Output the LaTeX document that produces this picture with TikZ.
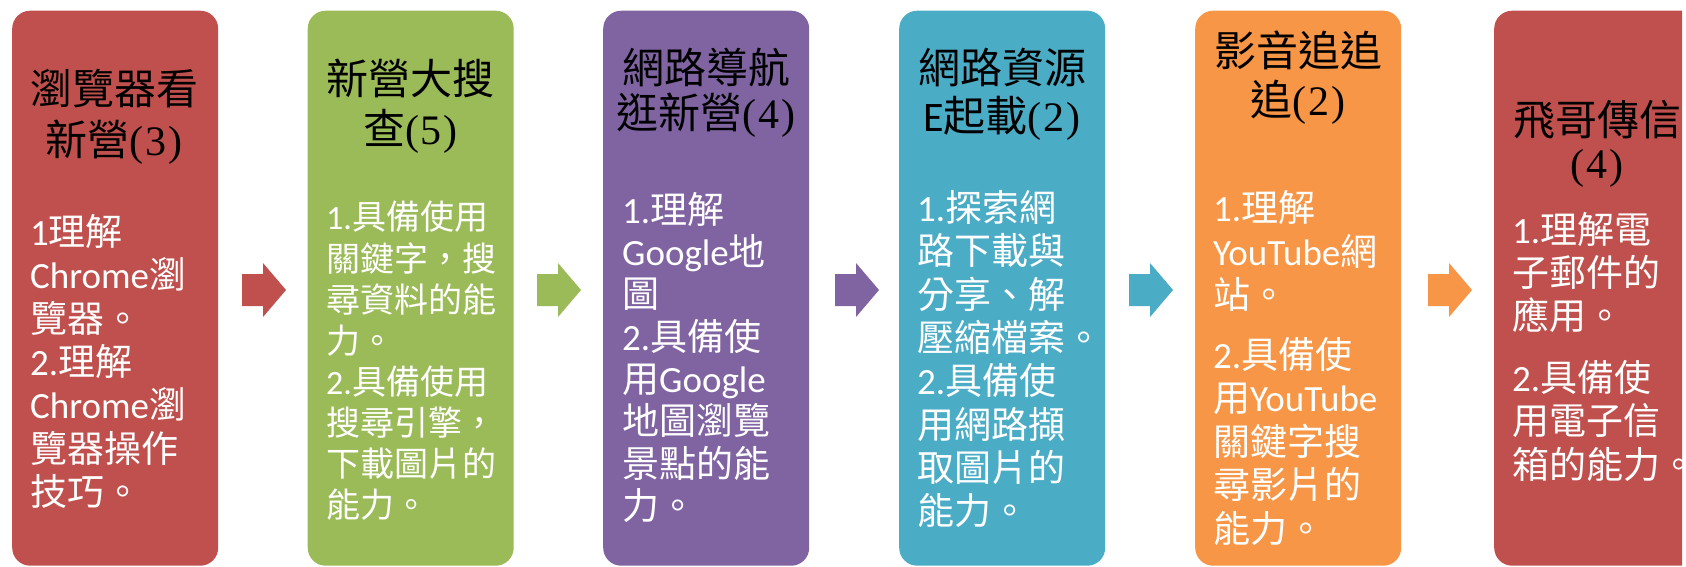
\documentclass[tikz,border=0pt]{standalone}
\usepackage{fontspec}
\setmainfont{Noto Sans CJK TC}
\newfontfamily\latf{Carlito}
\newfontfamily\serf{Liberation Serif}
\newcommand\latn[1]{{\latf #1}}
\newcommand\pnum[1]{{\serf(\kern2pt#1\kern2pt)}}
\definecolor{cred}{HTML}{C0504D}
\definecolor{cgreen}{HTML}{9BBB59}
\definecolor{cpurple}{HTML}{8064A2}
\definecolor{cteal}{HTML}{4BACC6}
\definecolor{corange}{HTML}{F79646}
\newcommand\bodylines[5]{%
  \foreach \yy/\tx [count=\i] in {#5} {\node[#3] (#1l\i) at (#2,\yy+#4) {\tx};}}
\begin{document}
\begin{tikzpicture}[x=1pt,y=-1pt,
  box/.style={rectangle, rounded corners=18pt, draw=none, anchor=north west,
    minimum width=206pt, minimum height=555pt, inner sep=0pt},
  ttl/.style={anchor=base, inner sep=0pt, text=black, font=\fontsize{42}{50}\selectfont},
  body/.style={anchor=base west, inner sep=0pt, text=white, font=\fontsize{37}{43}\selectfont},
  bodysmall/.style={body, font=\fontsize{34}{41}\selectfont},
  blockarrow/.style={draw=none}]
\useasboundingbox (0,0) rectangle (1686,566);
\clip (0,0) rectangle (1686,566);

% boxes
\node[box, fill=cred]    (b1) at (12,10.5) {};
\node[box, fill=cgreen]  (b2) at (307.5,10.5) {};
\node[box, fill=cpurple] (b3) at (603,10.5) {};
\node[box, fill=cteal]   (b4) at (899,10.5) {};
\node[box, fill=corange] (b5) at (1195,10.5) {};
\begin{scope}
  \clip (0,0) rectangle (1682,566);
  \node[box, fill=cred] (b6) at (1494,10.5) {};
\end{scope}

% block arrows
\foreach \ax/\col in {242/cred, 537/cgreen, 835/cpurple, 1129/cteal, 1428/corange} {
  \fill[blockarrow, \col] (\ax,274) -- (\ax+21,274) -- (\ax+21,263) -- (\ax+44,290)
    -- (\ax+21,317) -- (\ax+21,306) -- (\ax,306) -- cycle;
}

% titles
\node[ttl] (b1t1) at (114,88+16) {瀏覽器看};
\node[ttl] (b1t2) at (114,139+16) {新營\pnum{3}};
\node[ttl] (b2t1) at (410.5,78+16) {新營大搜};
\node[ttl] (b2t2) at (410.5,128+16) {查\pnum{5}};
\node[ttl] (b3t1) at (706,67+16) {網路導航};
\node[ttl] (b3t2) at (706,112+16) {逛新營\pnum{4}};
\node[ttl] (b4t1) at (1002,67+16) {網路資源};
\node[ttl] (b4t2) at (1002,115+16) {\latn{E}起載\pnum{2}};
\node[ttl] (b5t1) at (1298,50.5+16) {影音追追};
\node[ttl] (b5t2) at (1298,99+16) {追\pnum{2}};
\node[ttl] (b6t1) at (1597,119+16) {飛哥傳信};
\node[ttl] (b6t2) at (1597,162+16) {\pnum{4}};

% body texts
\bodylines{b1}{30}{body}{14}{231/{\latn{1}理解}, 274/{\latn{Chrome}瀏}, 318/{覽器。}, 361/{\latn{2.}理解}, 404/{\latn{Chrome}瀏}, 448/{覽器操作}, 491/{技巧。}}
\bodylines{b2}{326}{bodysmall}{13}{216.6/{\latn{1.}具備使用}, 258/{關鍵字，搜}, 299/{尋資料的能}, 340/{力。}, 381/{\latn{2.}具備使用}, 422/{搜尋引擎，}, 463/{下載圖片的}, 504/{能力。}}
\bodylines{b3}{622}{body}{14}{209/{\latn{1.}理解}, 251.3/{\latn{Google}地}, 293.6/{圖}, 336/{\latn{2.}具備使}, 378/{用\latn{Google}}, 420.5/{地圖瀏覽}, 463/{景點的能}, 505/{力。}}
\bodylines{b4}{917}{body}{14}{207.6/{\latn{1.}探索網}, 250.9/{路下載與}, 294.2/{分享、解}, 337.5/{壓縮檔案。}, 380.8/{\latn{2.}具備使}, 424.1/{用網路擷}, 467.4/{取圖片的}, 510.7/{能力。}}
\bodylines{b5}{1213}{body}{14}{207.6/{\latn{1.}理解}, 251/{\latn{YouTube}網}, 294/{站。}, 354/{\latn{2.}具備使}, 397/{用\latn{YouTube}}, 441/{關鍵字搜}, 484/{尋影片的}, 528/{能力。}}
\bodylines{b6}{1512}{body}{14}{229/{\latn{1.}理解電}, 272/{子郵件的}, 315/{應用。}, 377/{\latn{2.}具備使}, 420/{用電子信}, 464/{箱的能力。\kern-14pt}}
\end{tikzpicture}
\end{document}
